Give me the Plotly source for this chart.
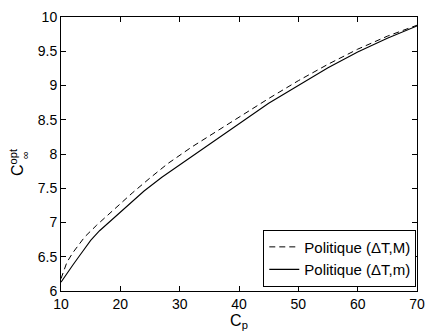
import plotly.graph_objects as go

# Data
cp_M = [10, 11, 12, 13, 14, 16, 18, 20, 22, 25, 28, 32, 36, 40, 45, 50, 55, 60, 65, 70]
c_M = [6.18, 6.42, 6.56, 6.68, 6.79, 6.96, 7.12, 7.27, 7.43, 7.65, 7.86, 8.10, 8.32, 8.53, 8.81, 9.07, 9.31, 9.53, 9.72, 9.88]

cp_m = [10, 11, 12, 13, 14, 15, 16.5, 18.4, 20, 22, 24, 27, 30, 33, 36, 40, 45, 50, 55, 60, 65, 70]
c_m = [6.13, 6.26, 6.38, 6.50, 6.62, 6.74, 6.88, 7.03, 7.15, 7.30, 7.46, 7.66, 7.84, 8.02, 8.20, 8.43, 8.74, 9.00, 9.26, 9.49, 9.69, 9.87]

names = ["Politique (ΔT,M)", "Politique (ΔT,m)"]
x_ticks = [10, 20, 30, 40, 50, 60, 70]
y_ticks = [6, 6.5, 7, 7.5, 8, 8.5, 9, 9.5, 10]

FONT = "Liberation Sans, Arial, Helvetica, sans-serif"

fig = go.Figure()
fig.add_trace(go.Scatter(x=cp_M, y=c_M, mode="lines", name=names[0],
                         line=dict(color="black", width=1, dash="6px,4px")))
fig.add_trace(go.Scatter(x=cp_m, y=c_m, mode="lines", name=names[1],
                         line=dict(color="black", width=1.1)))

axis_common = dict(showline=True, linecolor="black", linewidth=1, mirror="allticks",
                   ticks="inside", ticklen=5, tickcolor="black", showgrid=False,
                   zeroline=False, tickfont=dict(family=FONT, size=14, color="black"))

fig.update_xaxes(range=[10, 70], tickvals=x_ticks, ticktext=[str(v) for v in x_ticks],
                 title=dict(text="C<sub>p</sub>", font=dict(family=FONT, size=16, color="black"),
                            standoff=0),
                 **axis_common)
fig.update_yaxes(range=[6, 10], tickvals=y_ticks, ticktext=[f"{v:g}" for v in y_ticks],
                 **axis_common)

fig.add_annotation(xref="paper", yref="paper", x=-0.158, y=0.47, text="C<sup>opt</sup>",
                   textangle=-90, showarrow=False,
                   font=dict(family=FONT, size=16, color="black"))
fig.add_annotation(xref="paper", yref="paper", x=-0.122, y=0.495, text="∞",
                   textangle=-90, showarrow=False,
                   font=dict(family=FONT, size=11, color="black"))

fig.update_layout(
    width=434, height=332,
    margin=dict(l=61, r=9, t=12, b=41),
    paper_bgcolor="white", plot_bgcolor="white",
    font=dict(family=FONT, size=14, color="black"),
    showlegend=True,
    legend=dict(x=0.998, y=0.016, xanchor="right", yanchor="bottom",
                bgcolor="white", bordercolor="black", borderwidth=1,
                font=dict(family=FONT, size=15, color="black"),
                tracegroupgap=0, itemwidth=30),
)

fig.write_html("out.html")
